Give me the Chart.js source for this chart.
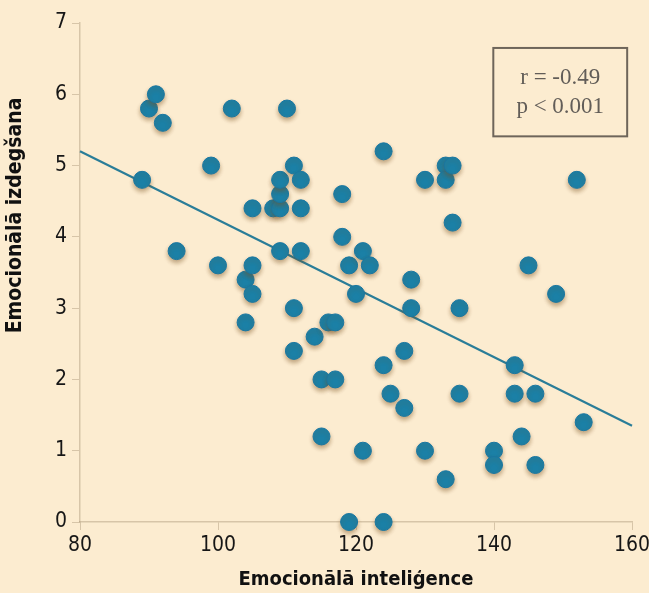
<!DOCTYPE html>
<html>
<head>
<meta charset="utf-8">
<script src="https://cdn.jsdelivr.net/npm/chart.js@4/dist/chart.umd.min.js"></script>
<style>
  html, body { margin: 0; padding: 0; background: #fcecd0; }
  #wrap { width: 649px; height: 593px; position: relative; }
</style>
</head>
<body>
<div id="wrap"><canvas id="c" width="649" height="593"></canvas></div>
<script>
// Emocionālā inteliģence (x) and Emocionālā izdegšana (y)
const intelX = [89, 90, 91, 92, 94, 99, 100, 102, 104, 104, 105, 105, 105, 108, 109, 109, 109, 109, 110, 111, 111, 111, 112, 112, 112, 114, 115, 115, 116, 117, 117, 118, 118, 119, 119, 120, 121, 121, 122, 124, 124, 124, 125, 127, 127, 128, 128, 130, 130, 133, 133, 133, 134, 134, 135, 135, 140, 140, 143, 143, 144, 145, 146, 146, 149, 152, 153];
const izdegY = [4.8, 5.8, 6.0, 5.6, 3.8, 5.0, 3.6, 5.8, 3.4, 2.8, 3.6, 3.2, 4.4, 4.4, 4.4, 4.6, 4.8, 3.8, 5.8, 5.0, 3.0, 2.4, 4.8, 4.4, 3.8, 2.6, 2.0, 1.2, 2.8, 2.8, 2.0, 4.6, 4.0, 3.6, 0, 3.2, 3.8, 1.0, 3.6, 5.2, 2.2, 0, 1.8, 2.4, 1.6, 3.4, 3.0, 4.8, 1.0, 5.0, 4.8, 0.6, 5.0, 4.2, 3.0, 1.8, 1.0, 0.8, 2.2, 1.8, 1.2, 3.6, 1.8, 0.8, 3.2, 4.8, 1.4];
// regression line end points
const trendX = [80, 160];
const trendY = [5.2, 1.35];
// tick values
const xTicks = [80, 100, 120, 140, 160];
const yTicks = [0, 1, 2, 3, 4, 5, 6, 7];
// texts
const xTitle = 'Emocionālā inteliģence';
const yTitle = 'Emocionālā izdegšana';
const statLines = ['r = -0.49', 'p < 0.001'];

const points = intelX.map((x, i) => ({x: x, y: izdegY[i]}));
const trend = trendX.map((x, i) => ({x: x, y: trendY[i]}));

const condensed = "'Liberation Sans Narrow', 'DejaVu Sans Condensed', 'Roboto Condensed', 'Liberation Sans', sans-serif";

const shadowPlugin = {
  id: 'shadow',
  beforeDatasetDraw(chart, args) {
    if (args.index === 0) {
      const ctx = chart.ctx;
      ctx.save();
      ctx.shadowColor = 'rgba(120, 80, 30, 0.45)';
      ctx.shadowBlur = 4;
      ctx.shadowOffsetX = 0;
      ctx.shadowOffsetY = 3;
    }
  },
  afterDatasetDraw(chart, args) {
    if (args.index === 0) chart.ctx.restore();
  }
};

// y-axis title, placed higher along the axis as in the original
const yTitlePlugin = {
  id: 'yTitle',
  afterDraw(chart) {
    const ctx = chart.ctx;
    const ys = chart.scales.y;
    ctx.save();
    ctx.translate(16, ys.getPixelForValue(4.3));
    ctx.rotate(-Math.PI / 2);
    ctx.fillStyle = '#111';
    ctx.font = "bold 21px " + condensed;
    ctx.textAlign = 'center';
    ctx.textBaseline = 'middle';
    ctx.fillText(yTitle, 0, 0);
    ctx.restore();
  }
};

const statBox = {
  id: 'statBox',
  afterDraw(chart) {
    const ctx = chart.ctx;
    const xs = chart.scales.x, ys = chart.scales.y;
    const l = xs.getPixelForValue(139.9), r = xs.getPixelForValue(159.3);
    const t = ys.getPixelForValue(6.65), b = ys.getPixelForValue(5.41);
    ctx.save();
    ctx.strokeStyle = '#6e655a';
    ctx.lineWidth = 2;
    ctx.strokeRect(l, t, r - l, b - t);
    ctx.fillStyle = '#625d58';
    ctx.font = "23px 'Liberation Serif', 'DejaVu Serif', serif";
    ctx.textAlign = 'center';
    ctx.textBaseline = 'middle';
    const cx = (l + r) / 2;
    ctx.fillText(statLines[0], cx, t + 30);
    ctx.fillText(statLines[1], cx, t + 59);
    ctx.restore();
  }
};

new Chart(document.getElementById('c'), {
  type: 'scatter',
  data: {
    datasets: [
      {
        data: points,
        backgroundColor: '#1b80a6',
        borderColor: '#1a76a0',
        borderWidth: 1,
        pointRadius: 8.5,
        pointHoverRadius: 8.5,
        clip: false
      },
      {
        type: 'line',
        data: trend,
        borderColor: '#2a7d98',
        borderWidth: 2.2,
        pointRadius: 0,
        fill: false,
        clip: false
      }
    ]
  },
  options: {
    responsive: false,
    animation: false,
    events: [],
    layout: { padding: { top: 23, right: 17, left: 0, bottom: 0 } },
    plugins: { legend: { display: false }, tooltip: { enabled: false } },
    scales: {
      x: {
        type: 'linear',
        min: 80, max: 160,
        afterBuildTicks(s) { s.ticks = xTicks.map(v => ({value: v})); },
        afterFit(s) { s.height = 71; s.paddingRight = 0; s.paddingLeft = 0; },
        border: { display: true, color: 'rgba(170,150,120,0.45)', width: 1.5 },
        grid: { drawOnChartArea: false, drawTicks: true, tickLength: 8, color: 'rgba(170,150,120,0.45)' },
        ticks: { padding: 3, color: '#161616', font: { family: condensed, size: 21 } },
        title: {
          display: true,
          text: xTitle,
          color: '#111',
          font: { family: condensed, size: 20, weight: 'bold' },
          padding: { top: 0, bottom: 1 }
        }
      },
      y: {
        type: 'linear',
        min: 0, max: 7,
        afterBuildTicks(s) { s.ticks = yTicks.map(v => ({value: v})); },
        afterFit(s) { s.width = 80; s.paddingTop = 0; s.paddingBottom = 0; },
        border: { display: true, color: 'rgba(170,150,120,0.45)', width: 1.5 },
        grid: { drawOnChartArea: false, drawTicks: true, tickLength: 8, color: 'rgba(170,150,120,0.45)' },
        ticks: { padding: 5, color: '#161616', font: { family: condensed, size: 21 } },
        title: { display: false }
      }
    }
  },
  plugins: [shadowPlugin, yTitlePlugin, statBox]
});
</script>
</body>
</html>
